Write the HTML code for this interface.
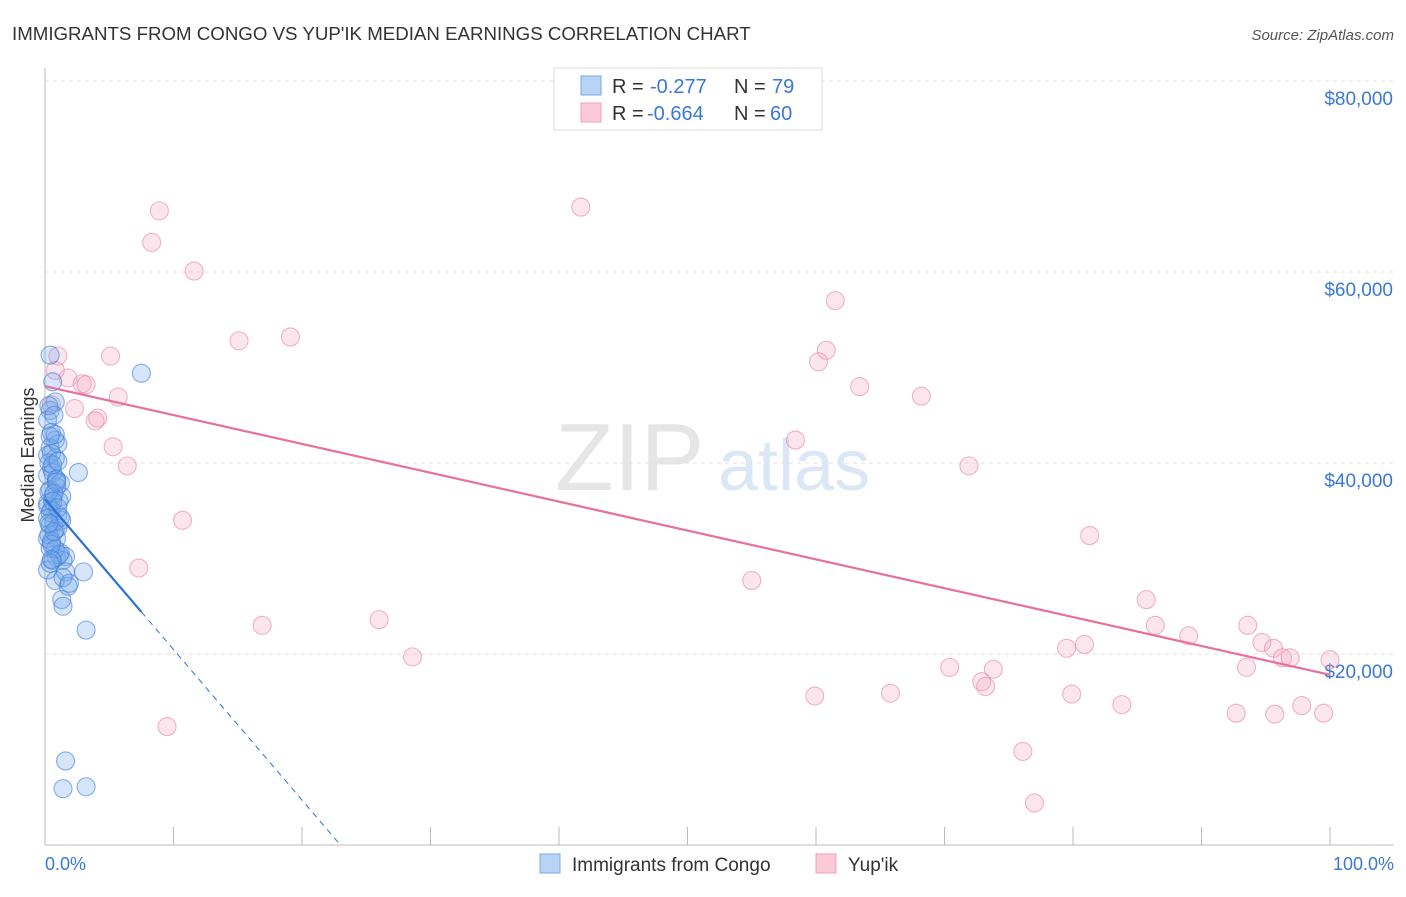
<!DOCTYPE html>
<html><head><meta charset="utf-8"><style>
body{margin:0;background:#fff;font-family:"Liberation Sans",sans-serif}
svg text{font-family:"Liberation Sans",sans-serif}
</style></head><body>
<svg id="chart" width="1406" height="892" xmlns="http://www.w3.org/2000/svg">
<text x="12" y="40" font-size="18.7" fill="#333">IMMIGRANTS FROM CONGO VS YUP'IK MEDIAN EARNINGS CORRELATION CHART</text>
<text x="1394" y="40" font-size="15" fill="#555" text-anchor="end" font-style="italic">Source: ZipAtlas.com</text>
<text x="555" y="490" font-size="96" fill="#e6e6e6" font-family="Liberation Serif">ZIP</text>
<text x="718" y="490" font-size="72" fill="#dbe7f6">atlas</text>
<g id="grid"></g><g id="axes"></g><g id="pts"></g><g id="lines"></g>
<g>
<rect x="554" y="68" width="268" height="62" fill="#fff" stroke="#ddd"/>
<rect x="581" y="76" width="20" height="19" fill="#b8d4f5" stroke="#7aa8e6"/>
<rect x="581" y="103" width="20" height="19" fill="#fbcad8" stroke="#f0a0b8"/>
<text x="612" y="93" font-size="20" fill="#333">R =</text><text x="650" y="93" font-size="20" fill="#3a78d8">-0.277</text>
<text x="734" y="93" font-size="20" fill="#333">N =</text><text x="772" y="93" font-size="20" fill="#3a78d8">79</text>
<text x="612" y="120" font-size="20" fill="#333">R =</text><text x="647" y="120" font-size="20" fill="#3a78d8">-0.664</text>
<text x="734" y="120" font-size="20" fill="#333">N =</text><text x="770" y="120" font-size="20" fill="#3a78d8">60</text>
</g>
<text transform="translate(34,455) rotate(-90)" font-size="18" fill="#333" text-anchor="middle">Median Earnings</text>
<text x="45" y="870" font-size="18" fill="#3a78d8">0.0%</text>
<text x="1394" y="870" font-size="18" fill="#3a78d8" text-anchor="end">100.0%</text>
<g>
<rect x="540" y="854" width="20" height="19" fill="#b8d4f5" stroke="#7aa8e6"/>
<text x="572" y="871" font-size="19" fill="#333">Immigrants from Congo</text>
<rect x="816" y="854" width="20" height="19" fill="#fbcad8" stroke="#f0a0b8"/>
<text x="848" y="871" font-size="19" fill="#333">Yup'ik</text>
</g>
</svg>
<script>
const yTicks=[20000,40000,60000,80000];
const yTickLabels=["$20,000","$40,000","$60,000","$80,000"];
const congoX=[0.4,0.6,0.8,0.4,0.2,0.5,0.8,0.4,0.2,0.8,0.5,0.2,0.9,1.2,0.4,0.6,1.3,0.2,0.5,1.0,1.3,0.4,0.8,0.2,0.9,0.4,1.2,0.9,1.6,0.6,1.4,0.2,0.8,1.6,1.3,7.5,2.6,3.2,1.6,1.4,3.2,3.0,1.4,1.8,1.4,1.9,0.3,0.7,1.0,0.5,0.3,0.6,0.9,1.1,0.2,0.4,0.7,1.0,0.3,0.5,0.8,1.1,0.4,0.6,0.9,0.3,0.7,1.2,0.5,0.8,1.0,0.4,0.6,0.2,0.9,0.5,0.7,0.3,1.0];
const congoY=[51300,48500,46400,45500,44500,43200,42400,41600,40800,40500,39500,38700,38200,37900,37200,36400,36500,35800,35100,34600,34000,33500,33000,32100,32100,31100,30600,30100,30200,29800,29800,28800,27700,28600,25700,49400,39000,22500,8800,5900,6100,28600,25000,27100,28000,27400,46000,45000,42000,41000,40000,39000,37500,36000,35500,34800,33800,33200,32500,31800,31000,30400,29500,39800,38300,37000,36800,34300,31500,43000,40200,42800,36000,34200,38000,29900,32800,33700,35300];
const yupikX=[8.9,8.3,11.6,41.7,15.1,19.1,61.5,60.8,60.2,63.4,68.2,5.1,1.0,0.8,1.8,2.9,3.2,5.7,4.1,3.9,2.3,5.3,6.4,58.4,71.9,10.7,81.3,7.3,55.0,85.7,16.9,26.0,86.4,89.0,93.6,80.9,79.5,94.7,95.6,96.3,96.9,100,28.6,70.4,73.8,93.5,72.9,73.2,59.9,65.8,79.9,83.8,92.7,95.7,97.8,99.5,9.5,76.1,77.0,0.5];
const yupikY=[66400,63100,60100,66800,52800,53200,57000,51800,50600,48000,47000,51200,51200,49700,48900,48300,48200,46900,44700,44400,45700,41700,39700,42400,39700,34000,32400,29000,27700,25700,23000,23600,23000,21900,23000,21000,20600,21200,20600,19600,19600,19400,19700,18600,18400,18600,17100,16600,15600,15900,15800,14700,13800,13700,14600,13800,12400,9800,4400,46100];
const NS="http://www.w3.org/2000/svg";
const X0=45,X1=1330,Y0=845,Yk=191/20000;
const xs=p=>X0+(X1-X0)*p/100;
const ys=v=>Y0-v*Yk;
function mk(t,a,parent){const e=document.createElementNS(NS,t);for(const k in a)e.setAttribute(k,a[k]);document.getElementById(parent).appendChild(e);return e;}
yTicks.forEach((v,i)=>{
 const g=mk('line',{x1:X0,x2:1394,y1:ys(v),y2:ys(v),stroke:'#e2e2e2','stroke-dasharray':'4,4'},'grid');
 
 
 const t=mk('text',{x:1393,y:ys(v)+24,'font-size':19,fill:'#3a78d8','text-anchor':'end'},'grid');
 t.textContent=yTickLabels[i];
 
 
});
const ax=mk('line',{x1:X0,x2:1394,y1:Y0,y2:Y0,stroke:'#bbb'},'axes');


const ay=mk('line',{x1:X0,x2:X0,y1:68,y2:Y0,stroke:'#bbb'},'axes');


for(let i=1;i<=10;i++){const tk=mk('line',{x1:xs(i*10),x2:xs(i*10),y1:Y0-18,y2:Y0,stroke:'#bbb'},'axes');
 
 }
function dots(X,Y,fill,stroke,name){X.forEach((x,i)=>{const c=mk('circle',{cx:xs(x),cy:ys(Y[i]),r:9,fill:fill,stroke:stroke,'stroke-width':1.1},'pts');
 
 });}
dots(yupikX,yupikY,'rgba(245,165,195,0.28)','rgba(232,140,172,0.65)','yupik-point');
dots(congoX,congoY,'rgba(120,170,235,0.3)','rgba(60,125,215,0.6)','congo-point');
function fit(X,Y){const n=X.length;let mx=0,my=0;X.forEach((x,i)=>{mx+=x;my+=Y[i]});mx/=n;my/=n;let sxy=0,sxx=0;X.forEach((x,i)=>{sxy+=(x-mx)*(Y[i]-my);sxx+=(x-mx)**2});const b=sxy/sxx;return [my-b*mx,b];}
const [ya,yb]=fit(yupikX,yupikY);
const pl=mk('line',{x1:xs(0),y1:ys(ya),x2:xs(100),y2:ys(ya+yb*100),stroke:'#e8709a','stroke-width':2.2},'lines');


const [ca,cb]=fit(congoX,congoY);
const xe=Math.max(...congoX);
const bl=mk('line',{x1:xs(0),y1:ys(ca),x2:xs(xe),y2:ys(ca+cb*xe),stroke:'#2a72d8','stroke-width':2.2},'lines');


const xz=cb<0?-ca/cb:xe;
const bd=mk('line',{x1:xs(xe),y1:ys(ca+cb*xe),x2:xs(xz),y2:ys(0),stroke:'#2a72d8','stroke-width':1,'stroke-dasharray':'6,5'},'lines');


</script>
</body></html>
